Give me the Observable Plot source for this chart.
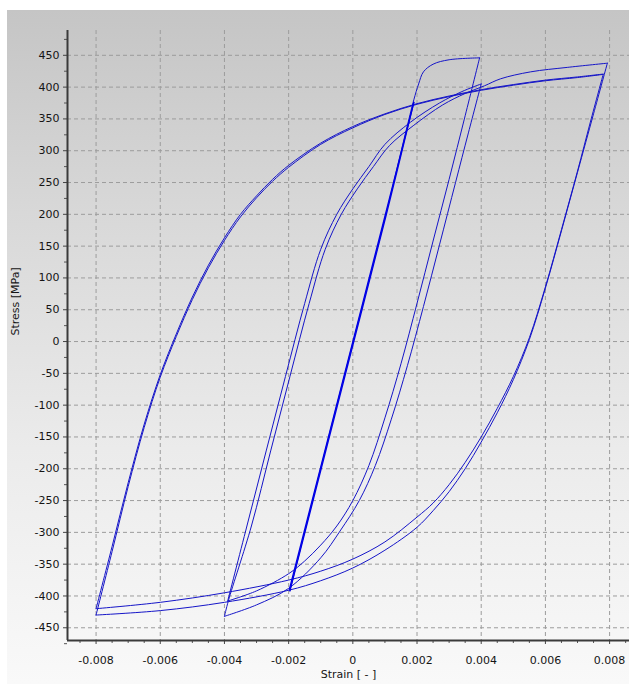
<!DOCTYPE html>
<html><head><meta charset="utf-8">
<script src="https://cdn.jsdelivr.net/npm/d3@7"></script>
<script src="https://cdn.jsdelivr.net/npm/@observablehq/plot@0.6"></script>
<style>
body{margin:0;background:#fff;}
#wrap{position:relative;width:629px;height:684px;overflow:hidden;}
#bg{position:absolute;left:7px;top:10px;right:0;bottom:0;background:linear-gradient(to bottom,#c5c5c5 0%,#d8d8d8 30%,#ebebeb 65%,#f9f9f9 100%);}
#chart{position:absolute;left:0;top:0;}
</style></head><body>
<div id="wrap"><div id="bg"></div><div id="chart"></div></div>
<script>
// Axis ticks and labels
const xTicks = [-0.008,-0.006,-0.004,-0.002,0,0.002,0.004,0.006,0.008];
const xTickLabels = ["-0.008","-0.006","-0.004","-0.002","0","0.002","0.004","0.006","0.008"];
const yTicks = [-450,-400,-350,-300,-250,-200,-150,-100,-50,0,50,100,150,200,250,300,350,400,450];
const yTickLabels = ["-450","-400","-350","-300","-250","-200","-150","-100","-50","0","50","100","150","200","250","300","350","400","450"];
const xMinor = [-0.0085,-0.0075,-0.007,-0.0065,-0.0055,-0.005,-0.0045,-0.0035,-0.003,-0.0025,-0.0015,-0.001,-0.0005,0.0005,0.001,0.0015,0.0025,0.003,0.0035,0.0045,0.005,0.0055,0.0065,0.007,0.0075,0.0085];
const yMinor = [-475,-425,-375,-325,-275,-225,-175,-125,-75,-25,25,75,125,175,225,275,325,375,425,475];
const xDomain = [-0.00889, 0.00862];
const yDomain = [-470, 489];
const xLabel = "Strain [ - ]";
const yLabel = "Stress [MPa]";

// Branches: [strain, stress]
// ±0.002 cycles (near-elastic line)
const elasticUp1 = [[-0.00198,-390],[-0.001,-197],[0,0],[0.001,197],[0.0019,376]];
const elasticDown1 = [[0.0019,376],[0.00103,197],[0.00003,0],[-0.00097,-197],[-0.00196,-392]];
const elasticUp2 = [[-0.00196,-392],[-0.001,-199],[0,-2],[0.001,194],[0.0017,340],[0.0019,380],[0.00205,405],[0.0022,424],[0.0025,436],[0.003,443],[0.00395,446]];
// ±0.004 cycles
const mid1Down = [[0.00395,446],[0.0035,355],[0.003,255],[0.0025,158],[0.002,60],[0.0015,-35],[0.001,-120],[0.0005,-195],[0,-250],[-0.0005,-290],[-0.001,-320],[-0.0015,-345],[-0.002,-365],[-0.003,-392],[-0.0039,-408]];
const mid1Up = [[-0.0039,-408],[-0.0033,-290],[-0.0027,-172],[-0.0021,-55],[-0.0015,60],[-0.001,145],[-0.0005,200],[0,240],[0.0005,275],[0.001,310],[0.0018,345],[0.0027,375],[0.0034,393],[0.004,405]];
const mid2Down = [[0.004,405],[0.0036,328],[0.0032,250],[0.0027,152],[0.0022,55],[0.0017,-38],[0.0012,-122],[0.0007,-195],[0.0002,-250],[-0.0004,-298],[-0.001,-340],[-0.002,-388],[-0.003,-414],[-0.004,-432]];
const mid2Up = [[-0.004,-432],[-0.00388,-408],[-0.00316,-290],[-0.00256,-172],[-0.00196,-55],[-0.00136,60],[-0.00086,145],[-0.00036,200],[0.00014,240],[0.00064,275],[0.00114,308],[0.0019,340],[0.0028,372],[0.0035,390],[0.0041,402],[0.0046,413],[0.00554,424],[0.00668,431],[0.00793,437.6]];
// ±0.008 cycles
const big1Down = [[0.00793,437.6],[0.0075,358],[0.007,266],[0.0065,174],[0.006,84],[0.0055,3],[0.005,-60],[0.0045,-112],[0.004,-158],[0.0035,-200],[0.003,-236],[0.0025,-266],[0.002,-292],[0.001,-328],[0,-356],[-0.001,-376],[-0.002,-391],[-0.004,-410],[-0.006,-423],[-0.008,-430]];
const big1Up = [[-0.008,-430],[-0.0075,-330],[-0.007,-228],[-0.0065,-135],[-0.006,-56],[-0.0055,8],[-0.005,66],[-0.0045,116],[-0.004,159],[-0.0035,196],[-0.003,226],[-0.0025,252],[-0.002,274],[-0.001,310],[0,336],[0.001,357],[0.002,373],[0.003,385],[0.004,395],[0.005,403],[0.006,410],[0.007,415],[0.0078,420]];
const big2Down = [[0.0078,420],[0.0074,345],[0.007,268],[0.0065,176],[0.006,86],[0.0055,6],[0.005,-55],[0.0045,-105],[0.004,-150],[0.0035,-190],[0.003,-225],[0.0025,-254],[0.002,-276],[0.001,-315],[0,-342],[-0.001,-361],[-0.002,-375],[-0.004,-395],[-0.006,-410],[-0.008,-420]];
const big2Up = [[-0.008,-420],[-0.0075,-322],[-0.007,-222],[-0.0065,-130],[-0.006,-52],[-0.0055,12],[-0.005,70],[-0.0045,120],[-0.004,163],[-0.0035,200],[-0.003,229],[-0.0025,255],[-0.002,277],[-0.001,312],[0,338],[0.001,358],[0.002,374],[0.003,386],[0.004,396],[0.005,404],[0.006,411],[0.007,416],[0.0078,420.5]];

const thinBranches = {mid1Down, mid1Up, mid2Down, mid2Up, big1Down, big1Up, big2Down, big2Up, elasticUp2};
const thickBranches = {elasticUp1, elasticDown1};

const toRows = (obj) => Object.entries(obj).flatMap(([name, pts]) => pts.map(([x, y]) => ({branch: name, strain: x, stress: y})));
const thinRows = toRows(thinBranches);
const thickRows = toRows(thickBranches);

const fmtX = d => { const i = xTicks.findIndex(t => Math.abs(t - d) < 1e-9); return i >= 0 ? xTickLabels[i] : ""; };
const fmtY = d => { const i = yTicks.indexOf(d); return i >= 0 ? yTickLabels[i] : ""; };

const lineColor = "#1515c8";
const gridStyle = {stroke: "#9c9c9c", strokeOpacity: 1, strokeWidth: 1, strokeDasharray: "4,3"};

const chart = Plot.plot({
  width: 629, height: 684,
  marginLeft: 67, marginRight: 0, marginTop: 30, marginBottom: 44,
  style: {background: "transparent", fontFamily: "DejaVu Sans", fontSize: "11px", color: "#151515", overflow: "visible"},
  x: {domain: xDomain},
  y: {domain: yDomain},
  marks: [
    Plot.gridX({ticks: xTicks, ...gridStyle}),
    Plot.gridY({ticks: yTicks, ...gridStyle}),
    Plot.line(thinRows, {x: "strain", y: "stress", z: "branch", curve: "catmull-rom", stroke: lineColor, strokeWidth: 1}),
    Plot.line(thickRows, {x: "strain", y: "stress", z: "branch", curve: "catmull-rom", stroke: "#0000e6", strokeWidth: 1.3}),
    Plot.axisX({ticks: xMinor, tickSize: 3, tickFormat: () => "", label: null, stroke: "#555"}),
    Plot.axisY({ticks: yMinor, tickSize: 3, tickFormat: () => "", label: null, stroke: "#555"}),
    Plot.axisX({ticks: xTicks, tickSize: 4, tickPadding: 12, tickFormat: fmtX, label: null, fontSize: 11, stroke: "#444"}),
    Plot.axisY({ticks: yTicks, tickSize: 4, tickPadding: 4, tickFormat: fmtY, label: null, fontSize: 11, stroke: "#444"}),
    Plot.ruleX([xDomain[0]], {stroke: "#3a3a3a", strokeWidth: 2}),
    Plot.ruleY([yDomain[0]], {stroke: "#3a3a3a", strokeWidth: 2}),
    Plot.text([xLabel], {frameAnchor: "bottom", dy: 37, fontSize: 11, fill: "#151515"}),
    Plot.text([yLabel], {frameAnchor: "left", dx: -52, rotate: -90, fontSize: 11, fill: "#151515"})
  ]
});
document.getElementById("chart").appendChild(chart);
</script>
</body></html>
